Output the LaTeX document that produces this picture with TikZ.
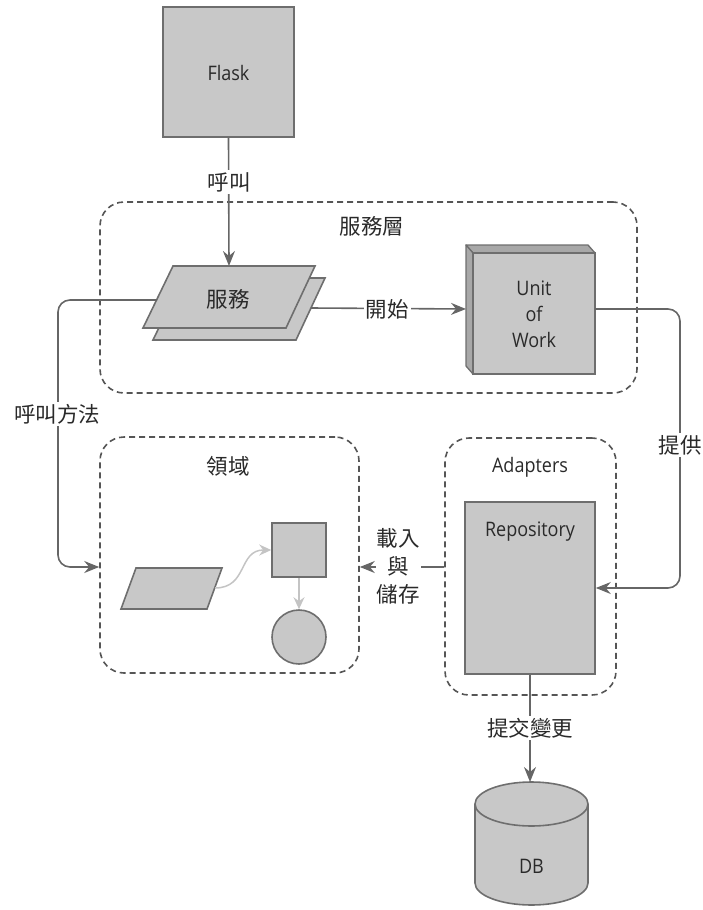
\documentclass[tikz,border=0pt]{standalone}
\usepackage{fontspec}
\setmainfont{Open Sans}[FakeStretch=0.9]
\newfontfamily\cjk{Noto Sans CJK TC}
\usetikzlibrary{arrows.meta}
\definecolor{boxfill}{HTML}{C8C8C8}
\definecolor{boxline}{HTML}{6E6E6E}
\definecolor{sidefill}{HTML}{A8A8A8}
\definecolor{conn}{HTML}{666666}
\definecolor{dashc}{HTML}{555555}
\definecolor{txt}{HTML}{2A2A2A}
\definecolor{faint}{HTML}{C4C4C4}
\tikzset{
  lat/.style={font=\fontsize{20}{26}\selectfont, text=txt},
  cj/.style={font=\cjk\fontsize{21.5}{28}\selectfont, text=txt},
  solidbox/.style={draw=boxline, fill=boxfill, line width=1.6pt, inner sep=0pt},
  dashbox/.style={draw=dashc, line width=1.6pt, dash pattern=on 6pt off 4pt, rounded corners=24pt, inner sep=0pt},
  conline/.style={draw=conn, line width=1.6pt},
  arr/.style={conline, -{Stealth[length=15pt,width=12pt,inset=5pt]}},
  faintarr/.style={draw=faint, line width=1.5pt, -{Stealth[length=12pt,width=11pt,inset=4pt]}},
  lbl/.style={cj, fill=white, inner sep=2pt}
}
\begin{document}
\begin{tikzpicture}[x=1pt,y=-1pt]
\useasboundingbox (0,0) rectangle (702,910);

% ---- dashed groups
\node[dashbox, minimum width=537, minimum height=191] (slayer) at (368.5,297.5) {};
\node[cj] (slabel) at (372,226) {服務層};
\node[dashbox, minimum width=259, minimum height=236] (domain) at (229.5,555) {};
\node[cj] (dlabel) at (228,466) {領域};
\node[dashbox, minimum width=171, minimum height=257] (adapters) at (530.5,566.5) {};
\node[lat] (alabel) at (530,467) {Adapters};

% ---- Flask
\node[solidbox, minimum width=131, minimum height=130] (flask) at (228.5,72) {};
\node[lat] (flasktxt) at (228.5,73) {Flask};

% ---- service (two parallelograms)
\draw[solidbox] (183,278) -- (325,278) -- (296,340) -- (153,340) -- cycle;
\draw[solidbox] (173,266) -- (315,266) -- (286,328) -- (143,328) -- cycle;
\coordinate (svctop) at (229,266);
\coordinate (svcleft) at (157,300);
\coordinate (svcright) at (311,308);
\node[cj] (svc) at (228,299) {服務};

% ---- Unit of Work (3D box)
\draw[draw=boxline, fill=sidefill, line width=1.3pt, line join=round] (466,245) -- (588,245) -- (595,253) -- (473,253) -- cycle;
\draw[draw=boxline, fill=sidefill, line width=1.3pt, line join=round] (466,245) -- (473,253) -- (473,374) -- (466,366) -- cycle;
\node[solidbox, minimum width=122, minimum height=121] (uow) at (534,313.5) {};
\node[lat, align=center] (uowtxt) at (534,314) {Unit\\of\\Work};
\coordinate (uowin) at (466,309);
\coordinate (uowout) at (595,309);

% ---- Repository
\node[solidbox, minimum width=130, minimum height=172] (repo) at (530,588) {};
\node[lat] (repotxt) at (530,532) {Repository};

% ---- DB cylinder
\fill[boxfill] (531.5,883) ellipse[x radius=56.5, y radius=22];
\draw[boxline, line width=1.6pt] (475,883) arc[start angle=180, end angle=0, x radius=56.5, y radius=22];
\fill[boxfill] (475,804) rectangle (588,883);
\draw[boxline, line width=1.6pt] (475,804) -- (475,883);
\draw[boxline, line width=1.6pt] (588,804) -- (588,883);
\draw[solidbox] (531.5,804) ellipse[x radius=56.5, y radius=22];
\coordinate (dbtop) at (530,782);
\node[lat] (db) at (531.5,866) {DB};

% ---- domain contents
\draw[solidbox] (136,568) -- (222,568) -- (207,609) -- (121,609) -- cycle;
\coordinate (dpar) at (215,588);
\node[solidbox, minimum width=54, minimum height=54] (dsq) at (299,550) {};
\node[solidbox, circle, minimum size=54] (dcirc) at (299,637) {};
\draw[faintarr] (dpar) .. controls (248,588) and (238,550) .. (dsq.west);
\draw[faintarr] (dsq.south) -- (dcirc.north);

% ---- connectors
\draw[arr] (flask.south) -- (svctop);
\node[lbl] (callbl) at (229,182) {呼叫};

\draw[arr] (svcright) -- (uowin);
\node[lbl] (startlbl) at (387,309) {開始};

\draw[arr, rounded corners=12pt] (uowout) -- (680,309) -- (680,588) -- (repo.east);
\node[lbl] (provlbl) at (680,445) {提供};

\draw[arr, rounded corners=12pt] (svcleft) -- (58,300) -- (58,567) -- (domain.west |- 0,567);
\node[lbl] (methlbl) at (57,414) {呼叫方法};

\draw[arr] (adapters.west |- 0,567) -- (domain.east |- 0,567);
\node[lbl, align=center, inner sep=1pt] (loadlbl) at (398,566) {載入\\與\\儲存};

\draw[arr] (repo.south) -- (dbtop);
\node[lbl] (commitlbl) at (530,728) {提交變更};
\end{tikzpicture}
\end{document}
